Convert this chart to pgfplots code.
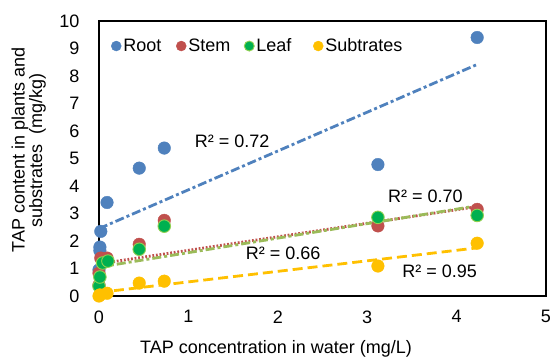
\documentclass[border=0pt]{standalone}
\usepackage{pgfplots}
\pgfplotsset{compat=1.18}
\usepackage{fontspec}
\setmainfont{Liberation Sans}
\definecolor{cRoot}{HTML}{4F81BD}
\definecolor{cStem}{HTML}{C0504D}
\definecolor{cLeaf}{HTML}{00B050}
\definecolor{cLeafB}{HTML}{92D050}
\definecolor{cLeafT}{HTML}{9BBB59}
\definecolor{cSub}{HTML}{FFC000}
\newcommand{\fs}{\fontsize{18}{17.5}\selectfont}
\begin{document}
\begin{tikzpicture}
\begin{axis}[
  scale only axis, width=447pt, height=275pt,
  xmin=0, xmax=5, ymin=0, ymax=10,
  xtick={0,1,2,3,4,5}, ytick={0,1,...,10},
  major tick length=0pt,
  axis line style={line width=1.5pt},
  /pgf/number format/assume math mode=true,
  tick label style={font=\fs},
  xticklabel style={yshift=-11pt},
  yticklabel style={xshift=-16pt},
  xlabel={TAP concentration in water (mg/L)},
  xlabel style={at={(axis description cs:0.396,-0.193)}, anchor=center, font=\fs, inner sep=0pt},
  ylabel={TAP content in plants and\\substrates\ \ (mg/kg)},
  ylabel style={at={(axis description cs:-0.1186,0.53)}, anchor=south, align=center, font=\fs, inner sep=0pt},
  clip=false,
  legend columns=4,
  legend style={at={(axis description cs:0.027,0.909)}, anchor=west, draw=none, fill=none, font=\fs, inner sep=0pt,
    /tikz/every even column/.append style={column sep=0pt}},
  legend image code/.code={\draw[#1,mark size=5pt] plot coordinates {(5pt,0pt)};},
]
% scatter series
\addplot[only marks, mark=*, mark size=6.3pt, mark options={fill=cRoot, draw=cRoot}] coordinates {
 (0.0,0.95) (0.01,1.65) (0.01,1.78) (0.02,2.35) (0.09,3.4) (0.45,4.65) (0.73,5.38) (3.12,4.78) (4.23,9.4)};
\addlegendentry{\makebox[51pt][l]{Root}}
\addplot[only marks, mark=*, mark size=6.3pt, mark options={fill=cStem, draw=cStem}] coordinates {
 (0.0,0.4) (0.0,0.83) (0.02,1.38) (0.09,1.38) (0.45,1.88) (0.73,2.75) (3.12,2.55) (4.23,3.15)};
\addlegendentry{\makebox[54pt][l]{Stem}}
\addplot[only marks, mark=*, mark size=6.3pt, mark options={fill=cLeaf, draw=cLeafB, line width=0.9pt}] coordinates {
 (0.0,0.36) (0.01,0.69) (0.04,1.2) (0.1,1.27) (0.45,1.7) (0.73,2.54) (3.12,2.86) (4.23,2.93)};
\addlegendentry{\makebox[55pt][l]{Leaf}}
\addplot[only marks, mark=*, mark size=6.3pt, mark options={fill=cSub, draw=cSub}] coordinates {
 (0.0,0.0) (0.01,0.04) (0.09,0.1) (0.45,0.47) (0.73,0.54) (3.12,1.09) (4.23,1.92)};
\addlegendentry{Subtrates}
% trendlines
\addplot[forget plot, cRoot, line width=2.8pt, dash pattern=on 9pt off 3pt on 3pt off 3pt] coordinates {(0,2.45) (4.23,8.42)};
\addplot[forget plot, cStem, line width=2.8pt, dash pattern=on 1.8pt off 1.8pt] coordinates {(0,1.17) (4.23,3.25)};
\addplot[forget plot, cLeafT, line width=2.8pt, dash pattern=on 9pt off 3pt on 3pt off 3pt] coordinates {(0,1.05) (4.23,3.28)};
\addplot[forget plot, cSub, line width=2.8pt, dash pattern=on 10pt off 5pt] coordinates {(0,0.13) (4.23,1.75)};
% R^2 labels
\node[font=\fs] at (axis cs:1.49,5.62) {R² = 0.72};
\node[font=\fs] at (axis cs:3.65,3.62) {R² = 0.70};
\node[font=\fs] at (axis cs:2.06,1.56) {R² = 0.66};
\node[font=\fs] at (axis cs:3.81,0.91) {R² = 0.95};
\end{axis}
\pgfresetboundingbox
\path (current axis.south west) ++(-99pt,-64pt) rectangle ++(550pt,360pt);
\end{tikzpicture}
\end{document}
